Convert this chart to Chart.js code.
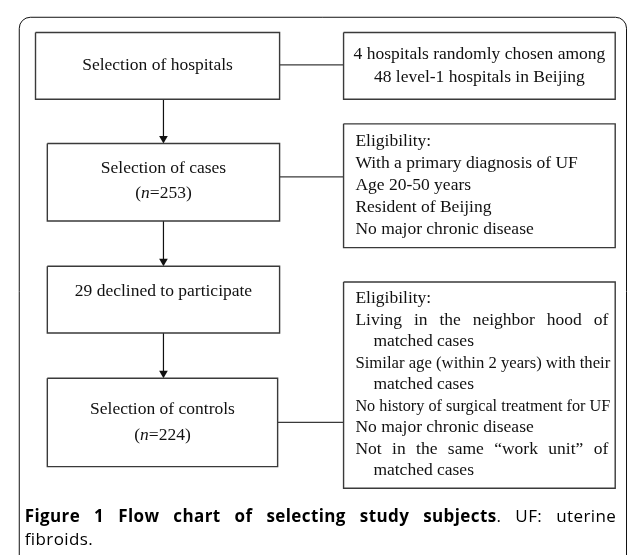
<!DOCTYPE html>
<html>
<head>
<meta charset="utf-8">
<script src="https://cdn.jsdelivr.net/npm/chart.js@4.4.0/dist/chart.umd.min.js"></script>
<style>
  body { margin: 0; background: #fff; }
  canvas { display: block; }
</style>
</head>
<body>
<canvas id="myChart" width="633" height="560"></canvas>
<script>
// steps of the flow (left column), _x_ marks italic text
const steps = [
    ['Selection of hospitals'],
    ['Selection of cases', '(_n_=253)'],
    ['29 declined to participate'],
    ['Selection of controls', '(_n_=224)']
];
// side notes (right column)
const notes = [
    ['4 hospitals randomly chosen among', '48 level-1 hospitals in Beijing'],
    ['Eligibility:', 'With a primary diagnosis of UF', 'Age 20-50 years', 'Resident of Beijing', 'No major chronic disease'],
    ['Eligibility:', 'Living in the neighbor hood of', 'matched cases', 'Similar age (within 2 years) with their',
     'matched cases', 'No history of surgical treatment for UF', 'No major chronic disease',
     'Not in the same \u201cwork unit\u201d of', 'matched cases']
];
const links = [[0, 0], [1, 1], [3, 2]];   // step -> note
const flow = [[0, 1], [1, 2], [2, 3]];    // step -> next step
const captionBold = 'Figure 1 Flow chart of selecting study subjects';
const captionRest = '. UF: uterine';
const captionLine2 = 'fibroids.';

// layout in page pixels (the hidden scales map 1:1 onto the canvas)
const stepBox = [[31, 28, 279, 96], [43, 141, 279, 220], [43, 266, 279, 334], [43, 380, 277, 470]];
const stepTextY = [61, 166, 292, 412];
const noteBox = [[344, 28, 620, 96], [344, 121, 620, 247], [344, 282, 620, 492]];
const noteTextY = [50, 139, 299];
const noteGap = [24, 22.3, 21.9];
const noteAlign = ['center', 'left', 'left'];
const justifyLines = [[], [], [1, 7]];
const indentLines = [[], [], [2, 4, 8]];
const linkY = [61, 175, 425];
const arrowX = 161;
const stepGap = 26;
const serif = '"Liberation Serif", "Times New Roman", serif';
const sans = '"Open Sans", sans-serif';
const fontPx = 17.5;

function rect(b) {
    return [{x: b[0], y: b[1]}, {x: b[2], y: b[1]}, {x: b[2], y: b[3]}, {x: b[0], y: b[3]}, {x: b[0], y: b[1]}];
}

const datasets = [];
stepBox.concat(noteBox).forEach(function(b) {
    datasets.push({data: rect(b), borderColor: '#3a3a3a', borderWidth: 1.4, pointRadius: 0, showLine: true});
});
links.forEach(function(l, i) {
    datasets.push({
        data: [{x: stepBox[l[0]][2], y: linkY[i]}, {x: noteBox[l[1]][0], y: linkY[i]}],
        borderColor: '#3a3a3a', borderWidth: 1.2, pointRadius: 0, showLine: true
    });
});
flow.forEach(function(f) {
    datasets.push({
        data: [{x: arrowX, y: stepBox[f[0]][3]}, {x: arrowX, y: stepBox[f[1]][1] - 5}],
        borderColor: '#111', borderWidth: 1.2, showLine: true,
        pointRadius: [0, 5], pointStyle: 'triangle', pointRotation: 180,
        pointBackgroundColor: '#111', pointBorderColor: '#111', pointBorderWidth: 0
    });
});

function segs(s) {
    return s.split('_').map(function(t, i) { return {t: t, it: i % 2 === 1}; });
}
function segFont(it) { return (it ? 'italic ' : '') + fontPx + 'px ' + serif; }
function segWidth(ctx, s) {
    return segs(s).reduce(function(w, p) { ctx.font = segFont(p.it); return w + ctx.measureText(p.t).width; }, 0);
}
function drawSegs(ctx, s, x, y) {
    segs(s).forEach(function(p) {
        ctx.font = segFont(p.it);
        ctx.fillText(p.t, x, y);
        x += ctx.measureText(p.t).width;
    });
}
function justify(ctx, s, x0, x1, y) {
    const words = s.split(' ');
    const w = words.reduce(function(a, t) { return a + ctx.measureText(t).width; }, 0);
    const gap = (x1 - x0 - w) / (words.length - 1);
    let x = x0;
    words.forEach(function(t) { ctx.fillText(t, x, y); x += ctx.measureText(t).width + gap; });
}

const textPlugin = {
    id: 'flowText',
    afterDatasetsDraw(chart) {
        const ctx = chart.ctx;
        const sx = chart.scales.x, sy = chart.scales.y;
        const px = function(v) { return sx.getPixelForValue(v); };
        const py = function(v) { return sy.getPixelForValue(v); };
        ctx.save();

        // outer frame with rounded top corners
        const r = 11, l = px(14.5), t = py(12.5), rt = px(631.5), bt = py(560);
        ctx.strokeStyle = '#111';
        ctx.lineWidth = 1;
        ctx.beginPath();
        ctx.moveTo(l, bt);
        ctx.lineTo(l, t + r);
        ctx.arcTo(l, t, l + r, t, r);
        ctx.lineTo(rt - r, t);
        ctx.arcTo(rt, t, rt, t + r, r);
        ctx.lineTo(rt, bt);
        ctx.stroke();

        ctx.fillStyle = '#111';
        ctx.textBaseline = 'middle';
        ctx.textAlign = 'left';

        steps.forEach(function(lines, i) {
            const b = stepBox[i];
            const cx = (px(b[0]) + px(b[2])) / 2;
            lines.forEach(function(s, j) {
                const w = segWidth(ctx, s);
                drawSegs(ctx, s, cx - w / 2, py(stepTextY[i] + j * stepGap));
            });
        });

        notes.forEach(function(lines, i) {
            const b = noteBox[i];
            const x0 = px(b[0] + 12), x1 = px(b[2] - 5);
            lines.forEach(function(s, j) {
                const y = py(noteTextY[i] + j * noteGap[i]);
                ctx.font = fontPx + 'px ' + serif;
                if (noteAlign[i] === 'center') {
                    const cx = (px(b[0]) + px(b[2])) / 2;
                    ctx.fillText(s, cx - ctx.measureText(s).width / 2, y);
                } else if (justifyLines[i].indexOf(j) >= 0) {
                    justify(ctx, s, x0, x1 - 2, y);
                } else {
                    const x = indentLines[i].indexOf(j) >= 0 ? x0 + 18 : x0;
                    ctx.fillText(s, x, y, x1 - x);
                }
            });
        });

        // caption, justified over the frame width
        const cx0 = px(20), cx1 = px(621), cy = py(521);
        const boldFont = 'bold 17px ' + sans, normFont = '17px ' + sans;
        ctx.fillStyle = '#000';
        ctx.letterSpacing = '0.4px';
        const bWords = captionBold.split(' '), rWords = captionRest.split(' ');
        ctx.font = boldFont;
        const bw = bWords.reduce(function(a, w) { return a + ctx.measureText(w).width; }, 0);
        ctx.font = normFont;
        const rw = rWords.reduce(function(a, w) { return a + ctx.measureText(w).width; }, 0);
        const gap = (cx1 - cx0 - bw - rw) / (bWords.length - 1 + rWords.length - 1);
        let x = cx0;
        ctx.font = boldFont;
        bWords.forEach(function(w, k) {
            ctx.fillText(w, x, cy);
            x += ctx.measureText(w).width + (k < bWords.length - 1 ? gap : 0);
        });
        ctx.font = normFont;
        rWords.forEach(function(w) {
            ctx.fillText(w, x, cy);
            x += ctx.measureText(w).width + gap;
        });
        ctx.fillText(captionLine2, cx0, py(545));
        ctx.restore();
    }
};

const ctx = document.getElementById('myChart').getContext('2d');
const chart = new Chart(ctx, {
    type: 'scatter',
    data: {datasets: datasets},
    options: {
        responsive: false,
        animation: false,
        devicePixelRatio: 1,
        events: [],
        layout: {padding: 0},
        elements: {line: {tension: 0, fill: false}},
        plugins: {legend: {display: false}, tooltip: {enabled: false}},
        scales: {
            x: {type: 'linear', min: 0, max: 633, display: false},
            y: {type: 'linear', min: 0, max: 560, reverse: true, display: false}
        }
    },
    plugins: [textPlugin]
});
</script>
</body>
</html>
